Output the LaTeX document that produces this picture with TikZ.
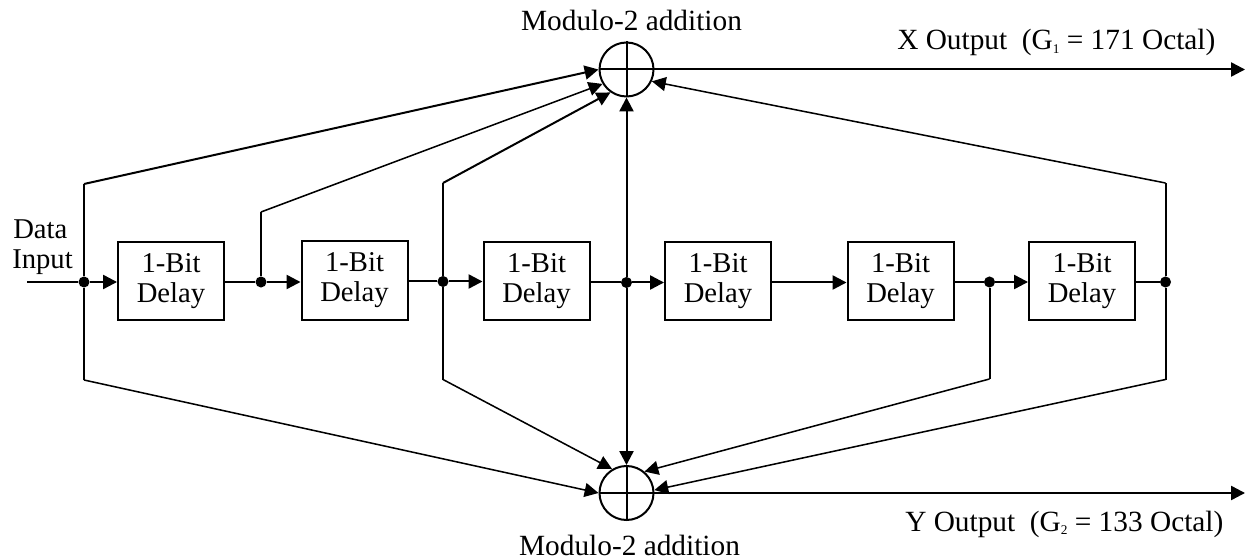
\documentclass[tikz,border=0pt]{standalone}
\usepackage{fontspec}
\setmainfont{Liberation Serif}
\usetikzlibrary{arrows.meta}
\tikzset{
  wire/.style={line width=1.5pt},
  slant/.style={line width=1.15pt},
  tip/.style={-{Triangle[length=10.4pt,width=10.5pt]}},
  delaybox/.style={draw,line width=1.5pt,minimum width=79.5pt,minimum height=59pt,inner sep=0pt,align=center,font=\fontsize{21.5}{22.5}\selectfont},
  adder/.style={draw,circle,line width=1.5pt,minimum size=40.5pt,inner sep=0pt},
  dot/.style={circle,fill=black,minimum size=8.3pt,inner sep=0pt},
  lbl/.style={inner sep=0pt,font=\fontsize{22}{22}\selectfont,align=center},
  smalllbl/.style={inner sep=0pt,font=\fontsize{21.5}{22}\selectfont,anchor=base west},
}
\newcommand{\subidx}[1]{\raisebox{-2.5pt}{\fontsize{10}{10}\selectfont #1}}
\begin{document}
\begin{tikzpicture}[x=0.75pt,y=-0.75pt]
\useasboundingbox (0,0) rectangle (1245,559);
% delay boxes
\node[delaybox] (b1) at (171,281) {1-Bit\\Delay};
\node[delaybox] (b2) at (354.5,280.5) {1-Bit\\Delay};
\node[delaybox] (b3) at (536.5,281) {1-Bit\\Delay};
\node[delaybox] (b4) at (718,281) {1-Bit\\Delay};
\node[delaybox] (b5) at (900.5,281) {1-Bit\\Delay};
\node[delaybox] (b6) at (1082,281) {1-Bit\\Delay};
% adders
\node[adder] (top) at (626.5,69.5) {};
\node[adder] (bot) at (626.5,493) {};
\draw[wire] (top.north) -- (top.south) (top.west) -- (top.east);
\draw[wire] (bot.north) -- (bot.south) (bot.west) -- (bot.east);
% junctions
\node[dot] (j1) at (84,282) {};
\node[dot] (j2) at (261,282) {};
\node[dot] (j3) at (443,281.5) {};
\node[dot] (j4) at (626.5,282.5) {};
\node[dot] (j5) at (989.5,282) {};
\node[dot] (j6) at (1165.5,282) {};
% free ends and bends
\coordinate (in) at (27,282);
\coordinate (xout) at (1245,69.5);
\coordinate (yout) at (1245,493);
\coordinate (u1) at (84,184);
\coordinate (u2) at (261,212);
\coordinate (u3) at (443,183);
\coordinate (u6) at (1165.5,183);
\coordinate (d1) at (84,380);
\coordinate (d3) at (443,379.5);
\coordinate (d5) at (989.5,379);
\coordinate (d6) at (1165.5,379.5);
% chain
\draw[wire] (in) -- (j1);
\draw[wire,tip] (j1) -- (b1.west |- j1);
\draw[wire] (b1.east |- j2) -- (j2);
\draw[wire,tip] (j2) -- (b2.west |- j2);
\draw[wire] (b2.east |- j3) -- (j3);
\draw[wire,tip] (j3) -- (b3.west |- j3);
\draw[wire] (b3.east |- j4) -- (j4);
\draw[wire,tip] (j4) -- (b4.west |- j4);
\draw[wire,tip] (b4.east |- j4) -- (b5.west |- j4);
\draw[wire] (b5.east |- j5) -- (j5);
\draw[wire,tip] (j5) -- (b6.west |- j5);
\draw[wire] (b6.east |- j6) -- (j6);
% upper taps
\draw[wire] (j1) -- (u1);
\draw[wire,tip] (u1) -- (top.180);
\draw[wire] (j2) -- (u2);
\draw[slant,tip] (u2) -- (top.211);
\draw[wire] (j3) -- (u3);
\draw[wire,tip] (u3) -- (top.235);
\draw[wire,tip] (j4) -- (top.south);
\draw[wire] (j6) -- (u6);
\draw[slant,tip] (u6) -- (top.-25);
% lower taps
\draw[wire] (j1) -- (d1);
\draw[slant,tip] (d1) -- (bot.180);
\draw[wire] (j3) -- (d3);
\draw[slant,tip] (d3) -- (bot.121);
\draw[wire,tip] (j4) -- (bot.north);
\draw[wire] (j5) -- (d5);
\draw[slant,tip] (d5) -- (bot.50);
\draw[wire] (j6) -- (d6);
\draw[slant,tip] (d6) -- (bot.6);
% outputs
\draw[wire,tip] (top.east) -- (xout);
\draw[wire,tip] (bot.east) -- (yout);
% labels
\node[lbl,anchor=base] (ltop) at (631.5,31) {Modulo-2 addition};
\node[lbl,anchor=base] (lbot) at (629.5,555) {Modulo-2 addition};
\node[lbl,anchor=base west] (lx) at (897,50) {X Output\ \ (G\subidx{1} = 171 Octal)};
\node[lbl,anchor=base west] (ly) at (905,531) {Y Output\ \ (G\subidx{2} = 133 Octal)};
\node[smalllbl] (ld) at (13,239) {Data};
\node[smalllbl] (li) at (12,269) {Input};
\end{tikzpicture}
\end{document}
